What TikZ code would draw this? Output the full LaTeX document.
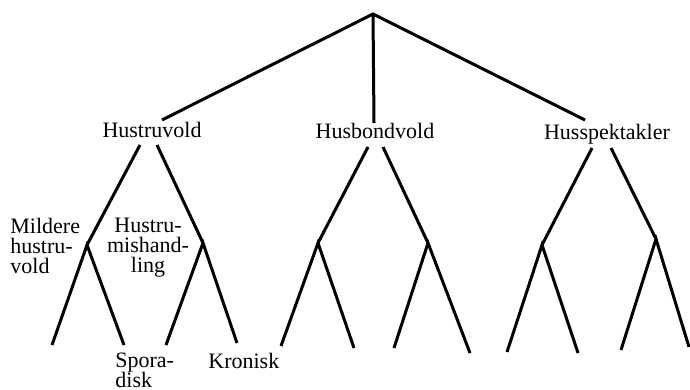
\documentclass[tikz,border=0pt]{standalone}
\usepackage{fontspec}
\setmainfont{Liberation Serif}
\tikzset{
  lbl/.style={inner sep=0pt, font=\fontsize{11}{10}\selectfont},
  branch/.style={line width=1.5pt}
}
\begin{document}
\begin{tikzpicture}[x=0.5pt, y=-0.5pt]
\useasboundingbox (0,0) rectangle (690,390);
\coordinate (top) at (373,14);

\node[lbl, anchor=base] (hv) at (152,137) {Hustruvold};
\node[lbl, anchor=base] (hb) at (375,139) {Husbondvold};
\node[lbl, anchor=base] (hs) at (607,140) {Husspektakler};
\coordinate (hvin) at (162,120);
\coordinate (hbin) at (374,123);
\coordinate (hsin) at (585,120);
\draw[branch] (hvin) -- (top) -- (hsin);
\draw[branch] (top) -- (hbin);

% Hustruvold
\coordinate (hvl) at (140,145);
\coordinate (hvr) at (157,145);
\coordinate (hva) at (87,245);
\coordinate (hvb) at (203,243);
\draw[branch] (hvl) -- (hva);
\draw[branch] (hvr) -- (hvb);
\coordinate (hva1) at (52,345);
\coordinate (hva2) at (124,345);
\coordinate (hvb1) at (166,345);
\coordinate (hvb2) at (237,343);
\draw[branch] (hva1) -- (hva) -- (hva2);
\draw[branch] (hvb1) -- (hvb) -- (hvb2);
\node[lbl, anchor=north west, align=left] (mild) at (10,218) {Mildere\\hustru-\\vold};
\node[lbl, anchor=north, align=center] (mish) at (148,218) {Hustru-\\mishand-\\ling};
\node[lbl, anchor=north west, align=left] (spor) at (115,353) {Spora-\\disk};
\node[lbl, anchor=north west] (kron) at (208,353) {Kronisk};

% Husbondvold
\coordinate (hbl) at (368,147);
\coordinate (hbr) at (383,147);
\coordinate (hba) at (318,243);
\coordinate (hbb) at (428,243);
\draw[branch] (hbl) -- (hba);
\draw[branch] (hbr) -- (hbb);
\coordinate (hba1) at (281,346);
\coordinate (hba2) at (354,348);
\coordinate (hbb1) at (394,348);
\coordinate (hbb2) at (470,353);
\draw[branch] (hba1) -- (hba) -- (hba2);
\draw[branch] (hbb1) -- (hbb) -- (hbb2);

% Husspektakler
\coordinate (hsl) at (592,148);
\coordinate (hsr) at (611,148);
\coordinate (hsa) at (542,245);
\coordinate (hsb) at (656,239);
\draw[branch] (hsl) -- (hsa);
\draw[branch] (hsr) -- (hsb);
\coordinate (hsa1) at (507,352);
\coordinate (hsa2) at (578,353);
\coordinate (hsb1) at (621,350);
\coordinate (hsb2) at (689,347);
\draw[branch] (hsa1) -- (hsa) -- (hsa2);
\draw[branch] (hsb1) -- (hsb) -- (hsb2);
\end{tikzpicture}
\end{document}
